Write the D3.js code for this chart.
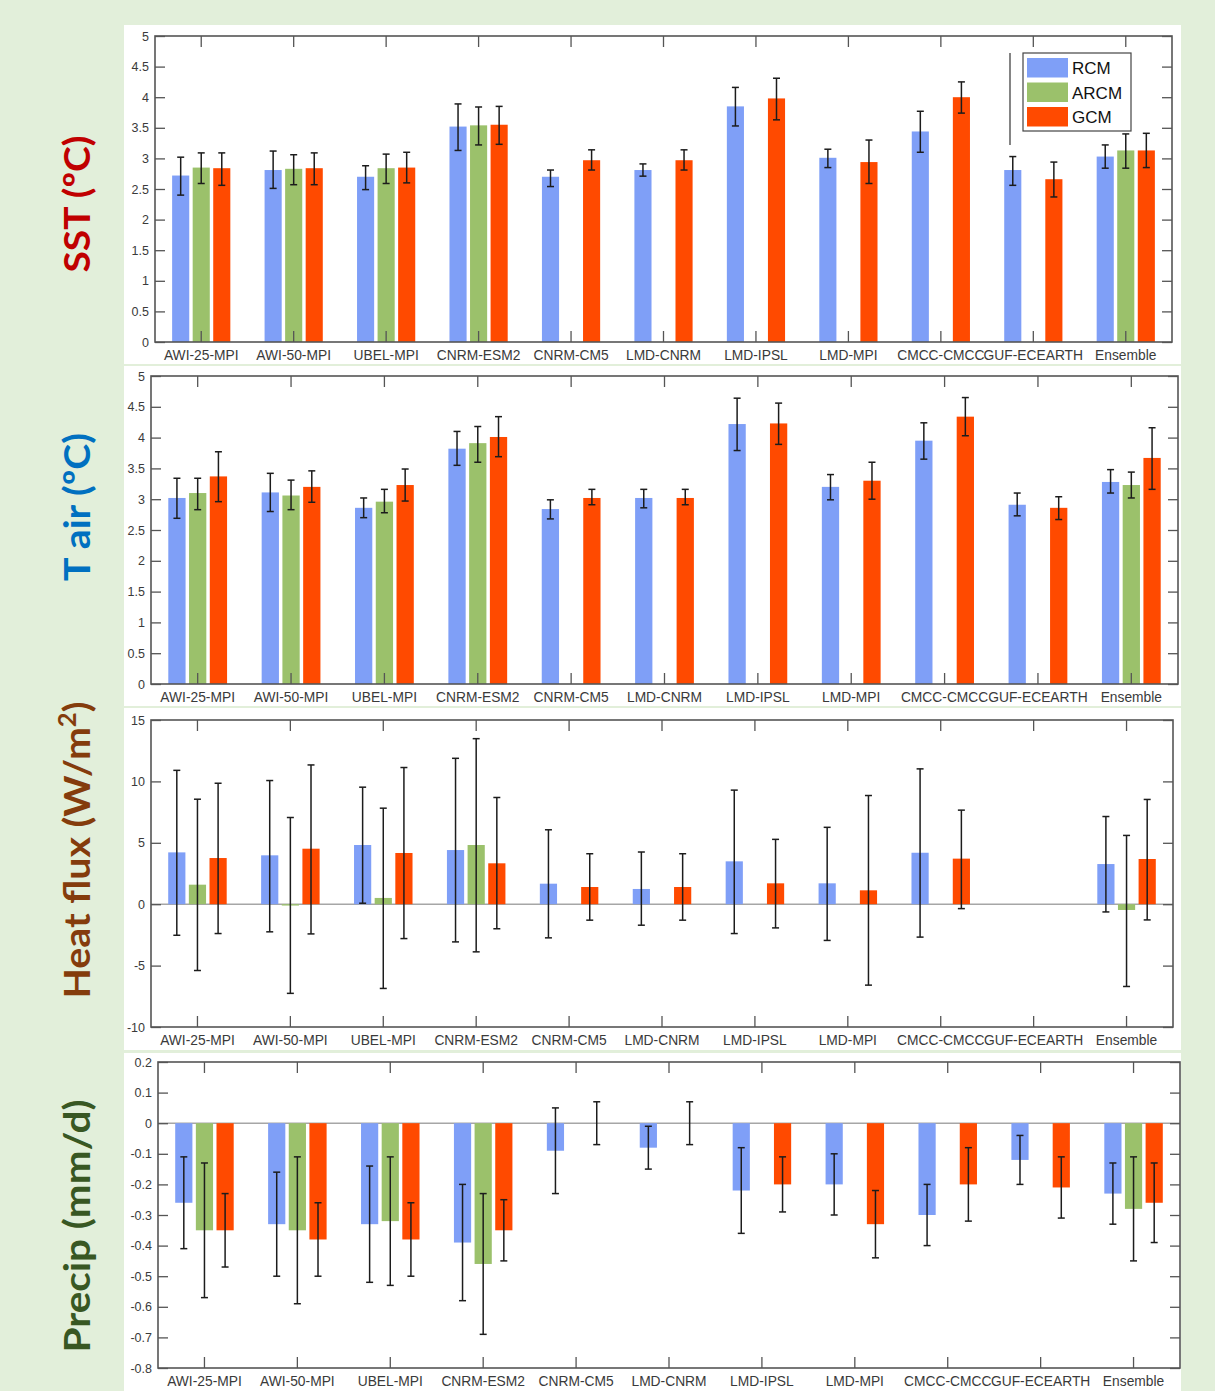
<!DOCTYPE html>
<html>
<head>
<meta charset="utf-8">
<script src="https://cdn.jsdelivr.net/npm/d3@7"></script>
<style>
  body { margin: 0; background: #e2efda; }
  svg text { font-family: "Liberation Sans", Arial, Helvetica, sans-serif; }
</style>
</head>
<body>
<svg id="fig" width="1215" height="1391"></svg>
<script>
// ---------- data ----------
const categories = ["AWI-25-MPI", "AWI-50-MPI", "UBEL-MPI", "CNRM-ESM2", "CNRM-CM5",
  "LMD-CNRM", "LMD-IPSL", "LMD-MPI", "CMCC-CMCC", "GUF-ECEARTH", "Ensemble"];
const seriesNames = ["RCM", "ARCM", "GCM"];
const seriesColors = ["#7f9ff7", "#9bc16b", "#ff4a00"];

// SST change (ºC): mean, lower and upper error limits
const sstRCM      = [2.72, 2.81, 2.70, 3.52, 2.70, 2.81, 3.85, 3.01, 3.44, 2.81, 3.03];
const sstRCMLo    = [2.40, 2.51, 2.49, 3.13, 2.54, 2.71, 3.53, 2.85, 3.10, 2.56, 2.84];
const sstRCMHi    = [3.02, 3.12, 2.88, 3.89, 2.81, 2.91, 4.16, 3.15, 3.77, 3.03, 3.22];
const sstARCM     = [2.85, 2.83, 2.84, 3.54, null, null, null, null, null, null, 3.13];
const sstARCMLo   = [2.59, 2.57, 2.59, 3.22, null, null, null, null, null, null, 2.84];
const sstARCMHi   = [3.09, 3.06, 3.07, 3.84, null, null, null, null, null, null, 3.40];
const sstGCM      = [2.84, 2.84, 2.85, 3.55, 2.97, 2.97, 3.98, 2.94, 4.00, 2.66, 3.13];
const sstGCMLo    = [2.56, 2.57, 2.60, 3.23, 2.81, 2.81, 3.63, 2.59, 3.74, 2.37, 2.85];
const sstGCMHi    = [3.09, 3.09, 3.10, 3.85, 3.14, 3.14, 4.31, 3.30, 4.25, 2.94, 3.41];

// Air temperature change (ºC)
const tairRCM     = [3.02, 3.11, 2.86, 3.82, 2.84, 3.02, 4.22, 3.20, 3.95, 2.91, 3.28];
const tairRCMLo   = [2.69, 2.80, 2.70, 3.55, 2.68, 2.86, 3.79, 2.99, 3.65, 2.73, 3.10];
const tairRCMHi   = [3.34, 3.42, 3.02, 4.10, 2.99, 3.16, 4.64, 3.40, 4.24, 3.10, 3.48];
const tairARCM    = [3.10, 3.06, 2.96, 3.91, null, null, null, null, null, null, 3.23];
const tairARCMLo  = [2.83, 2.83, 2.78, 3.60, null, null, null, null, null, null, 3.02];
const tairARCMHi  = [3.34, 3.31, 3.16, 4.18, null, null, null, null, null, null, 3.44];
const tairGCM     = [3.37, 3.20, 3.23, 4.01, 3.02, 3.02, 4.23, 3.30, 4.34, 2.86, 3.67];
const tairGCMLo   = [2.96, 2.95, 2.97, 3.69, 2.91, 2.91, 3.89, 3.00, 4.03, 2.67, 3.16];
const tairGCMHi   = [3.77, 3.46, 3.49, 4.34, 3.16, 3.16, 4.56, 3.60, 4.65, 3.04, 4.16];

// Net heat flux change (W/m2)
const heatRCM     = [4.22, 3.98, 4.82, 4.41, 1.67, 1.24, 3.49, 1.70, 4.19, null, 3.27];
const heatRCMLo   = [-2.53, -2.25, 0.08, -3.07, -2.74, -1.71, -2.39, -2.95, -2.68, null, -0.63];
const heatRCMHi   = [10.90, 10.07, 9.53, 11.88, 6.06, 4.25, 9.29, 6.26, 11.02, null, 7.14];
const heatARCM    = [1.59, -0.11, 0.51, 4.82, null, null, null, null, null, null, -0.47];
const heatARCMLo  = [-5.40, -7.26, -6.86, -3.88, null, null, null, null, null, null, -6.70];
const heatARCMHi  = [8.55, 7.06, 7.82, 13.48, null, null, null, null, null, null, 5.60];
const heatGCM     = [3.76, 4.52, 4.17, 3.33, 1.40, 1.40, 1.70, 1.13, 3.71, null, 3.68];
const heatGCMLo   = [-2.39, -2.42, -2.80, -2.00, -1.30, -1.30, -1.93, -6.59, -0.36, null, -1.28];
const heatGCMHi   = [9.85, 11.34, 11.13, 8.69, 4.11, 4.11, 5.28, 8.85, 7.66, null, 8.53];

// Precipitation change (mm/d)
const precRCM     = [-0.26, -0.33, -0.33, -0.39, -0.09, -0.08, -0.22, -0.20, -0.30, -0.12, -0.23];
const precRCMLo   = [-0.41, -0.50, -0.52, -0.58, -0.23, -0.15, -0.36, -0.30, -0.40, -0.20, -0.33];
const precRCMHi   = [-0.11, -0.16, -0.14, -0.20, 0.05, -0.01, -0.08, -0.10, -0.20, -0.04, -0.13];
const precARCM    = [-0.35, -0.35, -0.32, -0.46, null, null, null, null, null, null, -0.28];
const precARCMLo  = [-0.57, -0.59, -0.53, -0.69, null, null, null, null, null, null, -0.45];
const precARCMHi  = [-0.13, -0.11, -0.11, -0.23, null, null, null, null, null, null, -0.11];
const precGCM     = [-0.35, -0.38, -0.38, -0.35, 0.00, 0.00, -0.20, -0.33, -0.20, -0.21, -0.26];
const precGCMLo   = [-0.47, -0.50, -0.50, -0.45, -0.07, -0.07, -0.29, -0.44, -0.32, -0.31, -0.39];
const precGCMHi   = [-0.23, -0.26, -0.26, -0.25, 0.07, 0.07, -0.11, -0.22, -0.08, -0.11, -0.13];

// y-axis tick values
const tempTicks = [0, 0.5, 1, 1.5, 2, 2.5, 3, 3.5, 4, 4.5, 5];
const heatTicks = [-10, -5, 0, 5, 10, 15];
const precTicks = [-0.8, -0.7, -0.6, -0.5, -0.4, -0.3, -0.2, -0.1, 0, 0.1, 0.2];

// ---------- layout ----------
const panels = [
  { label: [["SST (ºC)"]], labelColor: "#c00000", labelY: 204, labelLen: 137,
    values: [sstRCM, sstARCM, sstGCM], lo: [sstRCMLo, sstARCMLo, sstGCMLo], hi: [sstRCMHi, sstARCMHi, sstGCMHi],
    domain: [0, 5], ticks: tempTicks, zeroLine: false, legend: true,
    box: { l: 155, r: 1172, t: 36, b: 342 }, bg: { x0: 124, y0: 25, x1: 1181, y1: 364 } },
  { label: [["T air (ºC)"]], labelColor: "#0070c0", labelY: 507, labelLen: 148,
    values: [tairRCM, tairARCM, tairGCM], lo: [tairRCMLo, tairARCMLo, tairGCMLo], hi: [tairRCMHi, tairARCMHi, tairGCMHi],
    domain: [0, 5], ticks: tempTicks, zeroLine: false, legend: false,
    box: { l: 151, r: 1178, t: 376, b: 684 }, bg: { x0: 124, y0: 366, x1: 1181, y1: 706 } },
  { label: [["Heat flux (W/m"], ["2", "sup"], [")"]], labelColor: "#843c0c", labelY: 850, labelLen: 297,
    values: [heatRCM, heatARCM, heatGCM], lo: [heatRCMLo, heatARCMLo, heatGCMLo], hi: [heatRCMHi, heatARCMHi, heatGCMHi],
    domain: [-10, 15], ticks: heatTicks, zeroLine: true, legend: false,
    box: { l: 151, r: 1173, t: 720, b: 1027 }, bg: { x0: 124, y0: 708, x1: 1181, y1: 1050 } },
  { label: [["Precip (mm/d)"]], labelColor: "#385723", labelY: 1226, labelLen: 253,
    values: [precRCM, precARCM, precGCM], lo: [precRCMLo, precARCMLo, precGCMLo], hi: [precRCMHi, precARCMHi, precGCMHi],
    domain: [-0.8, 0.2], ticks: precTicks, zeroLine: true, legend: false,
    box: { l: 158, r: 1180, t: 1062, b: 1368 }, bg: { x0: 124, y0: 1053, x1: 1181, y1: 1391 } }
];

const svg = d3.select("#fig");
svg.append("rect").attr("width", 1215).attr("height", 1391).attr("fill", "#e2efda");

const fmt = d => String(Math.round(d * 10) / 10);
const axisColor = "#555";

panels.forEach(p => {
  const g = svg.append("g");
  const { l, r, t, b } = p.box;

  // white figure background
  g.append("rect").attr("x", p.bg.x0).attr("y", p.bg.y0)
    .attr("width", p.bg.x1 - p.bg.x0).attr("height", p.bg.y1 - p.bg.y0).attr("fill", "#ffffff");

  const x = d3.scaleBand().domain(categories).range([l, r]).padding(0);
  const bw = x.bandwidth();
  const xs = d3.scaleBand().domain(seriesNames)
    .range([-bw / 3, bw / 3]).paddingInner(0.167).paddingOuter(0.0835);
  const y = d3.scaleLinear().domain(p.domain).range([b, t]);

  if (p.zeroLine) {
    g.append("line").attr("x1", l).attr("x2", r).attr("y1", y(0)).attr("y2", y(0))
      .attr("stroke", "#a6a6a6").attr("stroke-width", 1.5);
  }

  // bars
  seriesNames.forEach((s, si) => {
    const rows = categories.map((c, i) => ({ c, v: p.values[si][i], lo: p.lo[si][i], hi: p.hi[si][i] }))
      .filter(d => d.v !== null);
    g.append("g").selectAll("rect").data(rows).join("rect")
      .attr("x", d => x(d.c) + bw / 2 + xs(s))
      .attr("width", xs.bandwidth())
      .attr("y", d => Math.min(y(0), y(d.v)))
      .attr("height", d => Math.abs(y(0) - y(d.v)))
      .attr("fill", seriesColors[si]);
  });

  // error bars
  seriesNames.forEach((s, si) => {
    const rows = categories.map((c, i) => ({ c, lo: p.lo[si][i], hi: p.hi[si][i] }))
      .filter(d => d.lo !== null);
    const eg = g.append("g").attr("stroke", "#1c1c1c").attr("stroke-width", 1.5);
    rows.forEach(d => {
      const cx = x(d.c) + bw / 2 + xs(s) + xs.bandwidth() / 2;
      eg.append("line").attr("x1", cx).attr("x2", cx).attr("y1", y(d.lo)).attr("y2", y(d.hi));
      [d.lo, d.hi].forEach(v => eg.append("line")
        .attr("x1", cx - 3.5).attr("x2", cx + 3.5).attr("y1", y(v)).attr("y2", y(v)));
    });
  });

  // axes (inward ticks on all four sides)
  const styleAxis = sel => {
    sel.select(".domain").remove();
    sel.selectAll(".tick line").attr("stroke", axisColor).attr("stroke-width", 1.3);
    sel.selectAll(".tick text").attr("fill", "#3a3a3a").style("font-size", "12.5px");
  };
  g.append("g").attr("transform", `translate(${l},0)`)
    .call(d3.axisLeft(y).tickValues(p.ticks).tickFormat(fmt).tickSize(-10).tickPadding(6))
    .call(styleAxis);
  g.append("g").attr("transform", `translate(${r},0)`)
    .call(d3.axisRight(y).tickValues(p.ticks).tickFormat("").tickSize(-10))
    .call(styleAxis);
  g.append("g").attr("transform", `translate(0,${b})`)
    .call(d3.axisBottom(x).tickSize(-11).tickPadding(8))
    .call(styleAxis)
    .call(sel => sel.selectAll(".tick text").style("font-size", "13.8px"));
  g.append("g").attr("transform", `translate(0,${t})`)
    .call(d3.axisTop(x).tickFormat("").tickSize(-11))
    .call(styleAxis);

  // frame
  g.append("rect").attr("x", l).attr("y", t).attr("width", r - l).attr("height", b - t)
    .attr("fill", "none").attr("stroke", axisColor).attr("stroke-width", 1.6);

  // variable label
  const lab = svg.append("text")
    .attr("transform", `translate(90,${p.labelY}) rotate(-90)`)
    .attr("text-anchor", "middle")
    .attr("fill", p.labelColor)
    .attr("textLength", p.labelLen).attr("lengthAdjust", "spacingAndGlyphs")
    .style("font-family", "Lato, 'Open Sans', sans-serif")
    .style("font-weight", "bold").style("font-size", "37px");
  p.label.forEach(([txt, kind]) => {
    const ts = lab.append("tspan").text(txt);
    if (kind === "sup") ts.attr("baseline-shift", "super").style("font-size", "24px");
  });

  // legend
  if (p.legend) {
    const lg = svg.append("g");
    lg.append("line").attr("x1", 1010).attr("x2", 1010).attr("y1", 53).attr("y2", 145)
      .attr("stroke", "#333").attr("stroke-width", 1.2);
    lg.append("rect").attr("x", 1023).attr("y", 53).attr("width", 108).attr("height", 78)
      .attr("fill", "#fff").attr("stroke", "#444").attr("stroke-width", 1.2);
    seriesNames.forEach((s, i) => {
      const cy = 68 + i * 24.5;
      lg.append("rect").attr("x", 1027).attr("y", cy - 10).attr("width", 41).attr("height", 19.5)
        .attr("fill", seriesColors[i]);
      lg.append("text").attr("x", 1072).attr("y", cy).attr("dy", "0.36em")
        .attr("fill", "#111").style("font-size", "17px").text(s);
    });
  }
});
</script>
</body>
</html>
